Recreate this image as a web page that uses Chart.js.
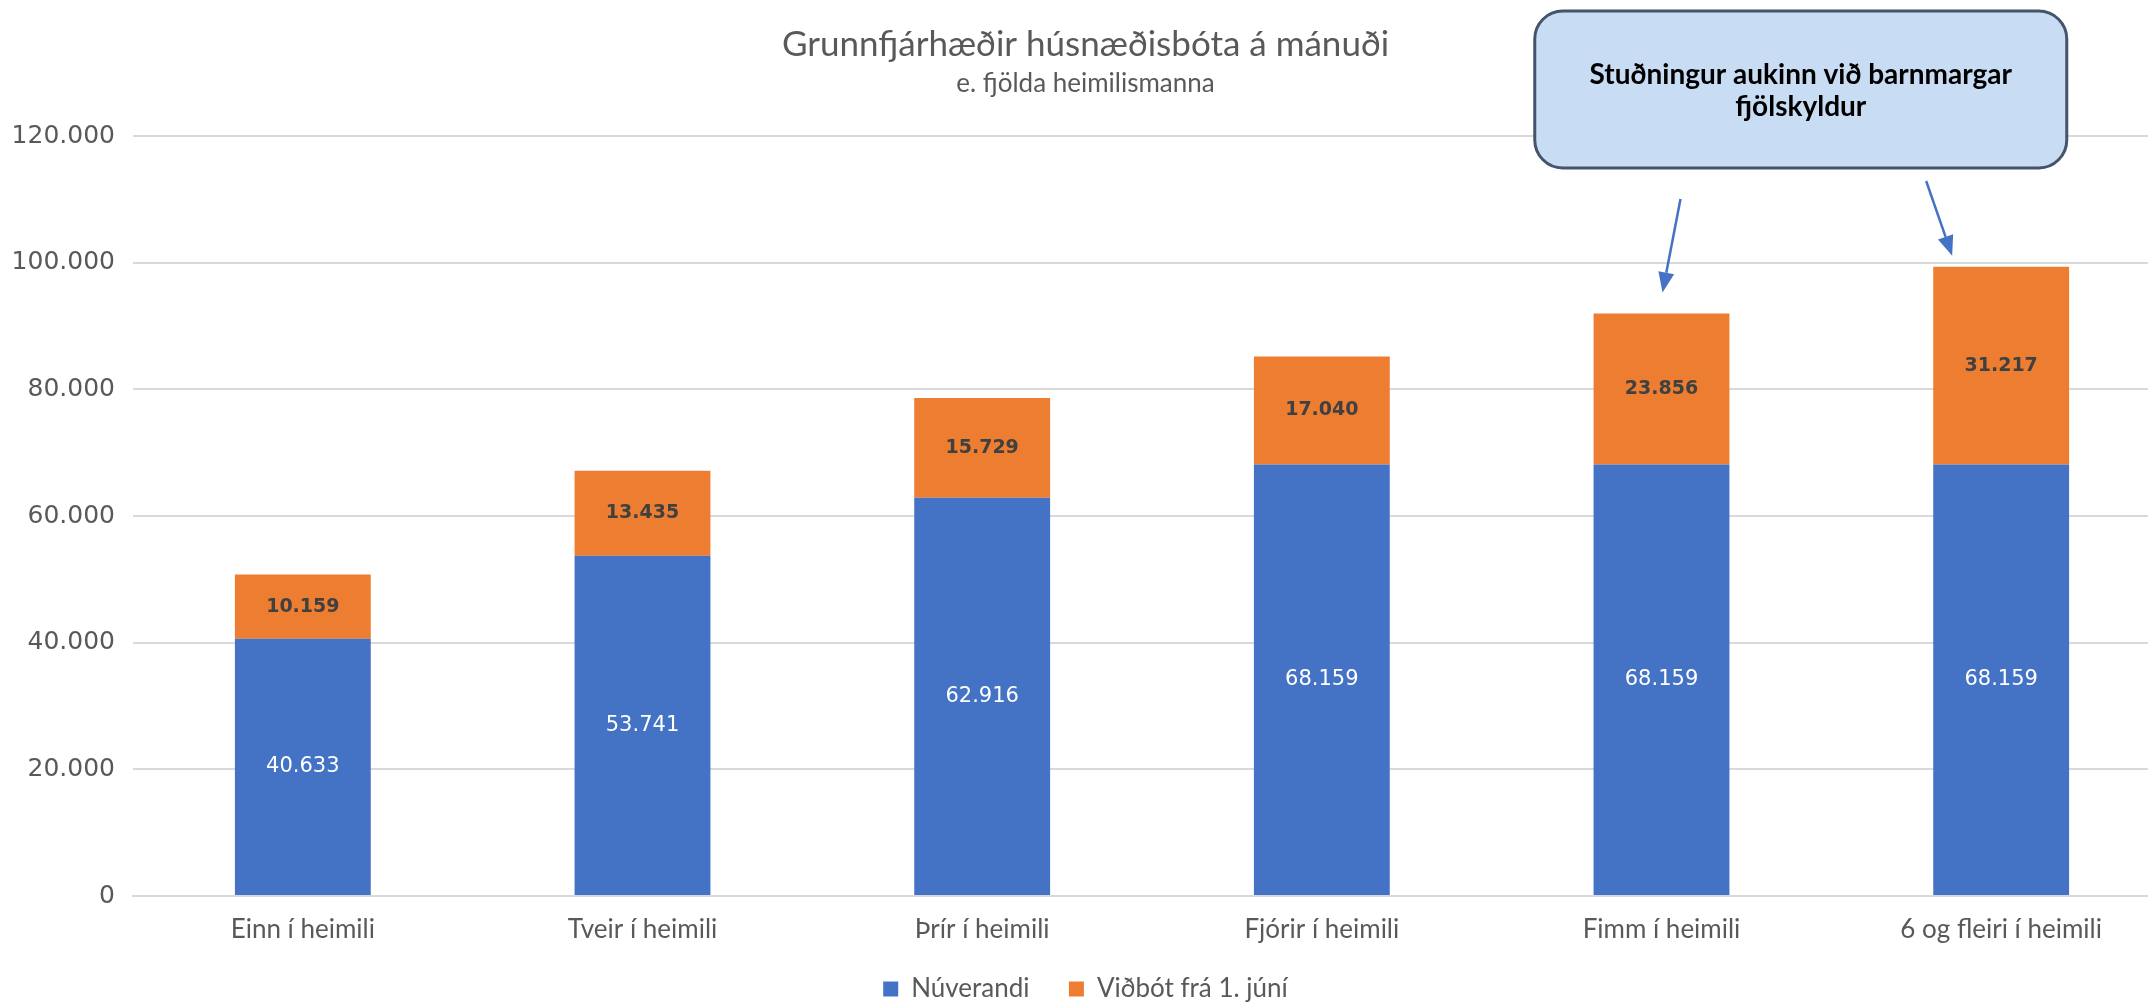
<!DOCTYPE html>
<html>
<head>
<meta charset="utf-8">
<script src="https://cdn.jsdelivr.net/npm/chart.js@4.4.1/dist/chart.umd.min.js"></script>
<style>
  html, body { margin: 0; padding: 0; background: #fff; overflow: hidden; }
  #wrap { width: 2178px; height: 1002px; }
</style>
</head>
<body>
<div id="wrap"><canvas id="myChart" width="2178" height="1002"></canvas></div>
<script>
const categories = ['Einn í heimili', 'Tveir í heimili', 'Þrír í heimili', 'Fjórir í heimili', 'Fimm í heimili', '6 og fleiri í heimili'];
const nuverandi = [40633, 53741, 62916, 68159, 68159, 68159];
const vidbot = [10159, 13435, 15729, 17040, 23856, 31217];
const yTickValues = [0, 20000, 40000, 60000, 80000, 100000, 120000];
const calloutLines = ['Stuðningur aukinn við barnmargar', 'fjölskyldur'];
const arrowBars = [4, 5];

const fmt = v => String(Math.round(v)).replace(/\B(?=(\d{3})+(?!\d))/g, '.');

// numbers inside the bar segments
const valueLabels = {
  id: 'valueLabels',
  afterDatasetsDraw(chart) {
    const ctx = chart.ctx;
    chart.data.datasets.forEach((ds, i) => {
      const meta = chart.getDatasetMeta(i);
      meta.data.forEach((bar, j) => {
        const p = bar.getCenterPoint();
        ctx.save();
        ctx.font = i === 0 ? '21px "DejaVu Sans"' : 'bold 19px "DejaVu Sans"';
        ctx.fillStyle = i === 0 ? '#ffffff' : '#404040';
        ctx.textAlign = 'center';
        ctx.textBaseline = 'middle';
        ctx.fillText(fmt(ds.data[j]), p.x, p.y);
        ctx.restore();
      });
    });
  }
};

// callout box + arrows
const callout = {
  id: 'callout',
  afterDraw(chart) {
    const ctx = chart.ctx;
    const x = chart.scales.x, y = chart.scales.y;
    const w = 532, h = 157, top = 11;
    const cx = x.getPixelForValue(4.41);
    const left = cx - w / 2;
    ctx.save();
    ctx.beginPath();
    ctx.roundRect(left, top, w, h, 28);
    ctx.fillStyle = '#c8dcf3';
    ctx.fill();
    ctx.lineWidth = 3;
    ctx.strokeStyle = '#44546a';
    ctx.stroke();
    ctx.fillStyle = '#000';
    ctx.font = 'bold 28px Lato';
    ctx.textAlign = 'center';
    ctx.textBaseline = 'middle';
    ctx.fillText(calloutLines[0], cx, 75);
    ctx.fillText(calloutLines[1], cx, 107);

    const starts = [[19, top + h + 31], [-75, top + h + 13]];
    const tips = [[1, 21], [-49, 11]];
    arrowBars.forEach((b, k) => {
      const bx = x.getPixelForValue(b);
      const total = nuverandi[b] + vidbot[b];
      const x0 = bx + starts[k][0], y0 = starts[k][1];
      const x1 = bx + tips[k][0], y1 = y.getPixelForValue(total) - tips[k][1];
      const ang = Math.atan2(y1 - y0, x1 - x0);
      const hl = 20, hw = 8;
      const bxp = x1 - hl * Math.cos(ang), byp = y1 - hl * Math.sin(ang);
      ctx.strokeStyle = '#4472c4';
      ctx.fillStyle = '#4472c4';
      ctx.lineWidth = 2.5;
      ctx.beginPath();
      ctx.moveTo(x0, y0);
      ctx.lineTo(bxp, byp);
      ctx.stroke();
      ctx.beginPath();
      ctx.moveTo(x1, y1);
      ctx.lineTo(bxp + hw * Math.sin(ang), byp - hw * Math.cos(ang));
      ctx.lineTo(bxp - hw * Math.sin(ang), byp + hw * Math.cos(ang));
      ctx.closePath();
      ctx.fill();
    });
    ctx.restore();
  }
};

const ctx = document.getElementById('myChart');

new Chart(ctx, {
  type: 'bar',
  data: {
    labels: categories,
    datasets: [{
      label: 'Núverandi',
      data: nuverandi,
      backgroundColor: '#4472c4'
    }, {
      label: 'Viðbót frá 1. júní',
      data: vidbot,
      backgroundColor: '#ed7d31'
    }]
  },
  options: {
    responsive: false,
    animation: false,
    layout: { padding: { left: 0, right: 7, top: 0, bottom: -10 } },
    datasets: {
      bar: { categoryPercentage: 1, barPercentage: 0.4 }
    },
    plugins: {
      title: {
        display: true,
        text: 'Grunnfjárhæðir húsnæðisbóta á mánuði',
        color: '#595959',
        font: { family: 'Lato', size: 35, weight: 'normal' },
        padding: { top: 24, bottom: 2 }
      },
      subtitle: {
        display: true,
        text: 'e. fjölda heimilismanna',
        color: '#595959',
        font: { family: 'Lato', size: 26 },
        padding: { top: 0, bottom: 37 }
      },
      legend: {
        position: 'bottom',
        labels: {
          color: '#595959',
          font: { family: 'Lato', size: 26 },
          boxWidth: 15,
          boxHeight: 15,
          padding: 26,
          // a little extra room after the first item, like the original
          generateLabels: chart => {
            const items = Chart.defaults.plugins.legend.labels.generateLabels(chart);
            items.forEach((it, i) => { if (i < items.length - 1) it.text += '  '; });
            return items;
          }
        }
      },
      tooltip: { enabled: false }
    },
    scales: {
      x: {
        stacked: true,
        afterFit: s => { s.height = 54; },
        grid: { display: false, drawTicks: false },
        border: { color: '#d9d9d9', width: 2 },
        ticks: {
          color: '#595959',
          font: { family: 'Lato', size: 26 },
          padding: 18
        }
      },
      y: {
        stacked: true,
        min: 0,
        max: 120000,
        afterFit: s => { s.width = 133; },
        afterBuildTicks: s => { s.ticks = yTickValues.map(v => ({ value: v })); },
        grid: { color: '#d9d9d9', lineWidth: 2, drawTicks: false },
        border: { display: false },
        ticks: {
          color: '#595959',
          font: { family: 'DejaVu Sans', size: 25 },
          padding: 18,
          callback: v => fmt(v)
        }
      }
    }
  },
  plugins: [valueLabels, callout]
});
</script>
</body>
</html>
